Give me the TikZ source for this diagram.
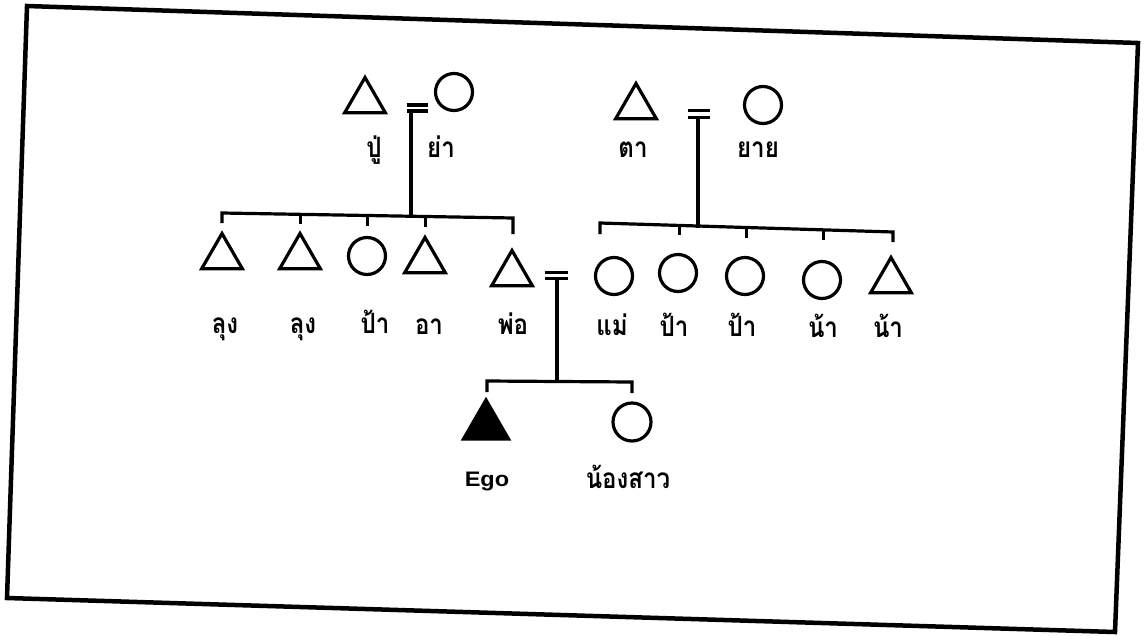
\documentclass[tikz,border=0pt]{standalone}
\usepackage{fontspec}
\newfontfamily\thai[Script=Thai,FakeStretch=0.86]{Loma}
\newfontfamily\latin[FakeStretch=1.12]{Liberation Sans}
\usetikzlibrary{shapes.geometric,calc}
\begin{document}
\begin{tikzpicture}[x=1pt,y=-1pt,
  male/.style={regular polygon, regular polygon sides=3, draw, line width=3.2pt, minimum size=47pt, inner sep=0pt},
  female/.style={circle, draw, line width=3.2pt, minimum size=37pt, inner sep=0pt},
  egostyle/.style={male, fill=black, minimum size=52pt},
  lbl/.style={font=\thai\bfseries\fontsize{28}{30}\selectfont, inner sep=0pt, anchor=base},
  elbl/.style={font=\latin\bfseries\fontsize{21}{23}\selectfont, inner sep=0pt, anchor=base},
  link/.style={line width=3.2pt},
  frame/.style={line width=4.5pt, line join=miter}]
\useasboundingbox (0,0) rectangle (1146,635);
% frame
\coordinate (fTL) at (27,6);
\coordinate (fTR) at (1138,43);
\coordinate (fBR) at (1115,632);
\coordinate (fBL) at (7,598);
\draw[frame] (fTL) -- (fTR) -- (fBR) -- (fBL) -- cycle;

% grandparents
\node[male] (pu) at (365,101) {};
\node[female] (ya) at (454,92) {};
\node[male] (ta) at (636,107) {};
\node[female] (yai) at (763,105) {};
\node[lbl] (lpu) at (374,157) {ปู่};
\node[lbl] (lya) at (441,157) {ย่า};
\node[lbl] (lta) at (633,157) {ตา};
\node[lbl] (lyai) at (758,157) {ยาย};

% marriage signs
\coordinate (e1) at (417,108);
\draw[link] (e1) ++(-10.5,-3) -- ++(21,0);
\draw[link] (e1) ++(-10.5,3) -- ++(21,0);
\coordinate (e2) at (699,114);
\draw[link] (e2) ++(-11,-3.5) -- ++(22,0);
\draw[link] (e2) ++(-11,3.5) -- ++(22,0);
\coordinate (e3) at (556,275.5);
\draw[link] (e3) ++(-11.5,-3) -- ++(23,0);
\draw[link] (e3) ++(-11.5,3) -- ++(23,0);

% descent lines
\coordinate (d1) at (411,111);
\coordinate (j1) at (411,215.5);
\draw[link] (d1) -- (j1);
\coordinate (d2) at (698,117.5);
\coordinate (j2) at (698,227.5);
\draw[link] (d2) -- (j2);
\coordinate (d3) at (557,278.5);
\coordinate (j3) at (557,381.5);
\draw[link] (d3) -- (j3);

% second generation
\node[male] (lu1) at (222,257) {};
\node[male] (lu2) at (300,257) {};
\node[female] (pa1) at (367,256) {};
\node[male] (aa) at (425,261) {};
\node[male] (pho) at (512,274) {};
\node[female] (mae) at (614,276) {};
\node[female] (pa2) at (678,273) {};
\node[female] (pa3) at (745,276) {};
\node[female] (na1) at (822,280) {};
\node[male] (na2) at (891,281) {};

\node[lbl] (llu1) at (225,333) {ลุง};
\node[lbl] (llu2) at (303,333) {ลุง};
\node[lbl] (lpa1) at (375,333) {ป้า};
\node[lbl] (laa) at (429,334) {อา};
\node[lbl] (lpho) at (513,334) {พ่อ};
\node[lbl] (lmae) at (612,335) {แม่};
\node[lbl] (lpa2) at (674,336) {ป้า};
\node[lbl] (lpa3) at (742,336) {ป้า};
\node[lbl] (lna1) at (823,337) {น้า};
\node[lbl] (lna2) at (888,337) {น้า};

% left sibling bar
\coordinate (lbL) at (222,213);
\coordinate (lbR) at (513,218);
\draw[link] ($(lbL)+(0,10)$) -- (lbL) -- (lbR) -- ($(lbR)+(0,16)$);
\foreach \n in {lu2,pa1,aa}{
  \draw[link] ($(lbL)!(\n)!(lbR)$) -- ++(0,10);
}
% right sibling bar
\coordinate (rbL) at (600,223);
\coordinate (rbR) at (893,232);
\draw[link] ($(rbL)+(0,11)$) -- (rbL) -- (rbR) -- ($(rbR)+(0,10)$);
\foreach \n in {pa2,pa3,na1}{
  \draw[link] ($(rbL)!(\n)!(rbR)$) -- ++(0,10);
}

% third generation
\node[egostyle] (ego) at (486,426) {};
\node[female, minimum size=38pt] (sis) at (632,422) {};
\node[elbl] (lego) at (487,486) {Ego};
\node[lbl] (lsis) at (628,488) {น้องสาว};
\coordinate (cbL) at (487,381);
\coordinate (cbR) at (632,382);
\draw[link] ($(cbL)+(0,11)$) -- (cbL) -- (cbR) -- ($(cbR)+(0,11)$);
\end{tikzpicture}
\end{document}
